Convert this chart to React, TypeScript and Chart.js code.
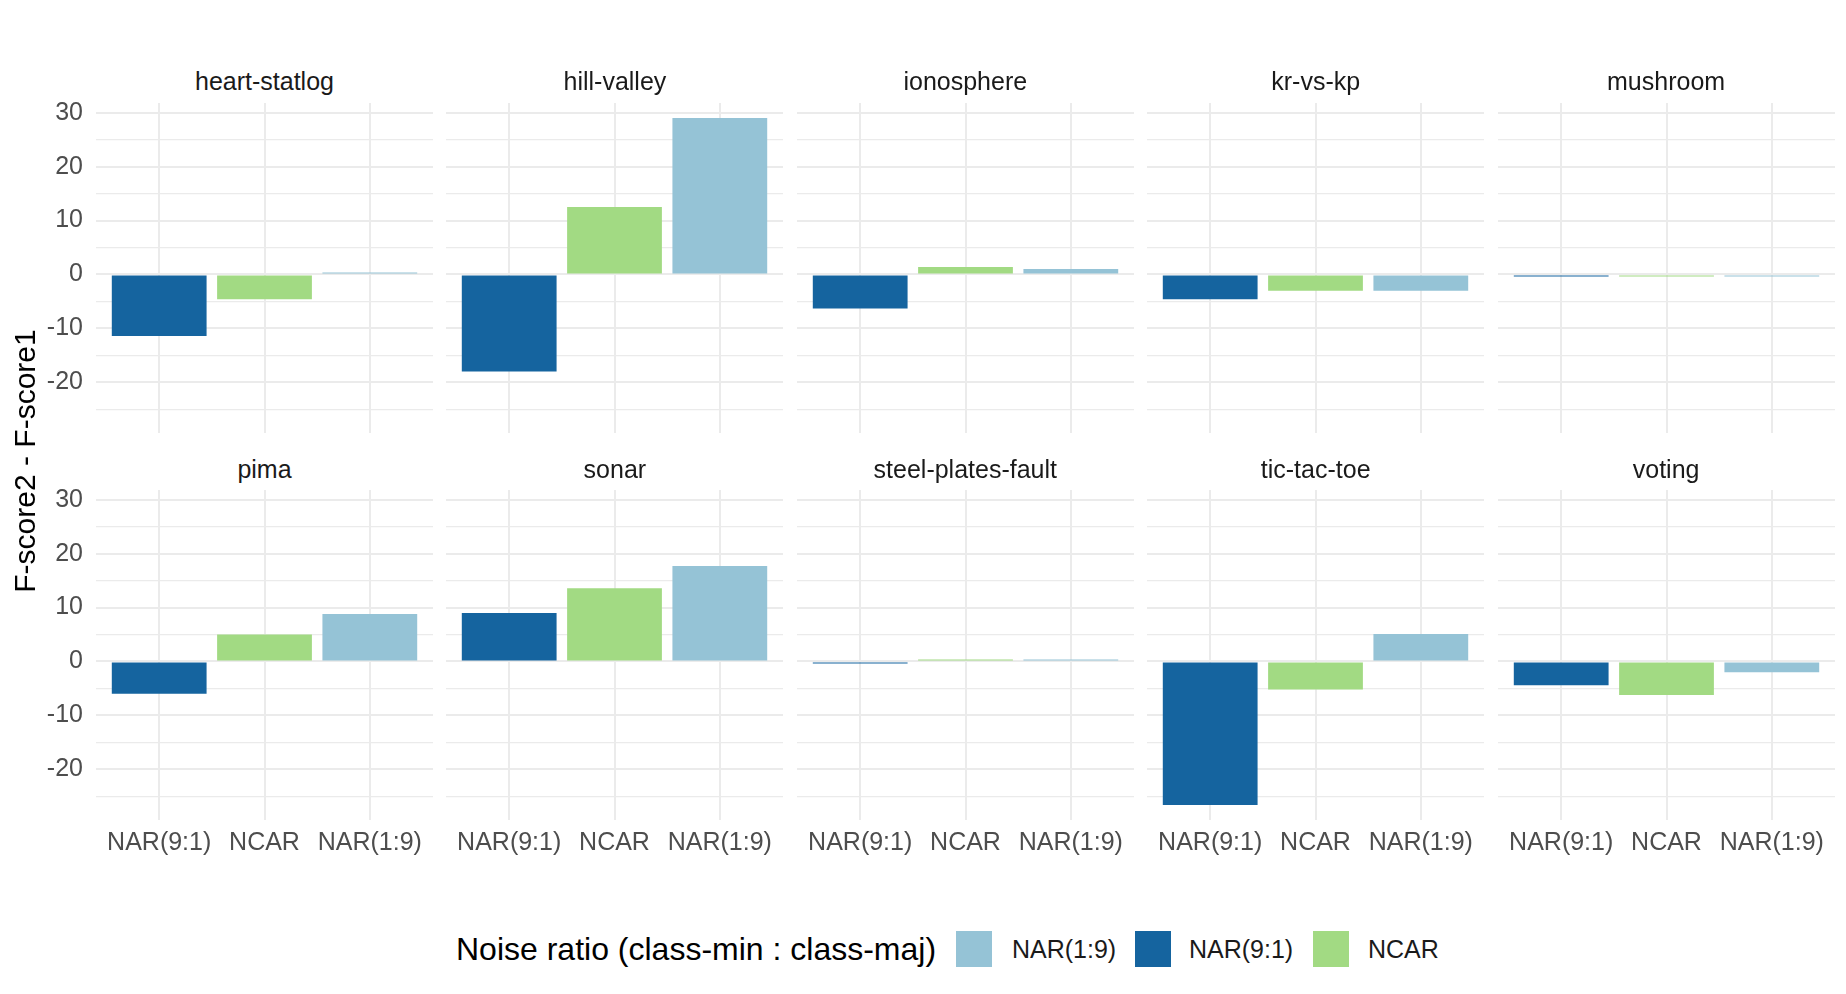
import { useEffect, useRef } from 'react';
import Chart from 'chart.js/auto';

const FONT = "'Liberation Sans', Arial, Helvetica, sans-serif";

const panelNames = [
  'heart-statlog', 'hill-valley', 'ionosphere', 'kr-vs-kp', 'mushroom',
  'pima', 'sonar', 'steel-plates-fault', 'tic-tac-toe', 'voting'
];
const noiseLevels = ['NAR(9:1)', 'NCAR', 'NAR(1:9)'];
const nar91 = [-11.4, -18.0, -6.3, -4.6, -0.2, -6.0, 9.0, -0.1, -26.6, -4.4];
const ncar = [-4.6, 12.5, 1.4, -3.0, -0.2, 5.0, 13.6, 0.3, -5.2, -6.2];
const nar19 = [0.3, 29.0, 1.0, -3.0, -0.2, 8.8, 17.7, 0.15, 5.1, -2.0];
const yGrid = [-25, -20, -15, -10, -5, 0, 5, 10, 15, 20, 25, 30];
const yLabels = [-20, -10, 0, 10, 20, 30];
const legendOrder = ['NAR(1:9)', 'NAR(9:1)', 'NCAR'];

const fillOf: Record<string, string> = {
  'NAR(9:1)': '#15649F',
  NCAR: '#A2DA83',
  'NAR(1:9)': '#95C3D6'
};
const GRID = '#EBEBEB';
const TICK = '#4D4D4D';

const Y_MIN = -29.4;
const Y_MAX = 31.8;

// layout (px)
const M = 20; // canvas margin around plot area
const PW = 337;
const PH = 330;
const X0 = 96;
const DX = 350.4;
const ROW_TOP = [102.5, 490];
const TITLE_BASE = [90, 477.5];
const YW = 90;
const XH = 50;

function Panel({ i }: { i: number }) {
  const ref = useRef<HTMLCanvasElement | null>(null);
  const col = i % 5;
  const row = Math.floor(i / 5);
  const first = col === 0;
  const bottom = row === 1;

  useEffect(() => {
    if (!ref.current) return;
    const vals = [nar91[i], ncar[i], nar19[i]];
    const chart = new Chart(ref.current, {
      type: 'bar',
      data: {
        datasets: [
          {
            data: vals.map((y, k) => ({ x: k, y })),
            backgroundColor: noiseLevels.map((n) => fillOf[n]),
            borderWidth: 0,
            minBarLength: 2,
            categoryPercentage: 1,
            barPercentage: 0.9
          }
        ]
      },
      options: {
        animation: false,
        responsive: true,
        maintainAspectRatio: false,
        layout: { padding: M },
        plugins: { legend: { display: false }, tooltip: { enabled: false } },
        scales: {
          x: {
            type: 'linear',
            min: -0.6,
            max: 2.6,
            bounds: 'data',
            offset: false,
            grid: { color: GRID, lineWidth: 2, drawTicks: false, offset: false },
            border: { display: false },
            afterBuildTicks: (s: any) => {
              s.ticks = noiseLevels.map((_, k) => ({ value: k }));
            },
            afterFit: (s: any) => {
              s.height = bottom ? XH : 0;
              s.paddingLeft = 0;
              s.paddingRight = 0;
            },
            ticks: {
              display: bottom,
              autoSkip: false,
              maxRotation: 0,
              minRotation: 0,
              padding: 8,
              color: TICK,
              font: { family: FONT, size: 25 },
              callback: (v: any) => noiseLevels[Math.round(Number(v))] ?? ''
            }
          },
          y: {
            type: 'linear',
            min: Y_MIN,
            max: Y_MAX,
            bounds: 'data',
            grid: {
              color: GRID,
              lineWidth: (c: any) =>
                c.tick && yLabels.includes(Math.round(c.tick.value)) ? 2 : 1.2,
              drawTicks: false
            },
            border: { display: false },
            afterBuildTicks: (s: any) => {
              s.ticks = yGrid.map((v) => ({ value: v }));
            },
            afterFit: (s: any) => {
              s.width = first ? YW : 0;
              s.paddingTop = 0;
              s.paddingBottom = 0;
            },
            ticks: {
              display: first,
              autoSkip: false,
              padding: 13,
              color: TICK,
              font: { family: FONT, size: 25 },
              callback: (v: any) => {
                const r = Math.round(Number(v));
                return yLabels.includes(r) ? String(r) : '';
              }
            }
          }
        }
      }
    });
    return () => chart.destroy();
  }, [i]);

  const left = X0 + col * DX - M - (first ? YW : 0);
  const top = ROW_TOP[row] - M;
  const w = PW + 2 * M + (first ? YW : 0);
  const h = PH + 2 * M + (bottom ? XH : 0);

  return (
    <>
      <div
        style={{
          position: 'absolute',
          left: X0 + col * DX,
          top: TITLE_BASE[row] - 23.7,
          width: PW,
          height: 30,
          lineHeight: '30px',
          fontSize: 25,
          textAlign: 'center',
          color: '#1A1A1A'
        }}
      >
        {panelNames[i]}
      </div>
      <div style={{ position: 'absolute', left, top, width: w, height: h }}>
        <canvas ref={ref}></canvas>
      </div>
    </>
  );
}

export default function App() {
  const keyX = [956, 1135, 1313];
  const labelX = [1012, 1189, 1368];
  return (
    <div
      style={{
        position: 'absolute',
        left: 0,
        top: 0,
        width: 1846,
        height: 994,
        background: '#fff',
        overflow: 'hidden',
        fontFamily: FONT
      }}
    >
      {panelNames.map((_, i) => (
        <Panel key={i} i={i} />
      ))}

      <div
        style={{
          position: 'absolute',
          left: 24.6 - 200,
          top: 461 - 18,
          width: 400,
          height: 36,
          lineHeight: '36px',
          fontSize: 30,
          textAlign: 'center',
          color: '#000',
          transform: 'rotate(-90deg)',
          whiteSpace: 'nowrap'
        }}
      >
        F-score2 - F-score1
      </div>

      <div
        style={{
          position: 'absolute',
          left: 456,
          top: 931,
          height: 36,
          lineHeight: '36px',
          fontSize: 32,
          color: '#000',
          whiteSpace: 'nowrap'
        }}
      >
        Noise ratio (class-min : class-maj)
      </div>
      {legendOrder.map((n, k) => (
        <div key={n}>
          <div
            style={{
              position: 'absolute',
              left: keyX[k],
              top: 931,
              width: 36,
              height: 36,
              background: fillOf[n]
            }}
          ></div>
          <div
            style={{
              position: 'absolute',
              left: labelX[k],
              top: 931,
              height: 36,
              lineHeight: '36px',
              fontSize: 25,
              color: '#1A1A1A',
              whiteSpace: 'nowrap'
            }}
          >
            {n}
          </div>
        </div>
      ))}
    </div>
  );
}
